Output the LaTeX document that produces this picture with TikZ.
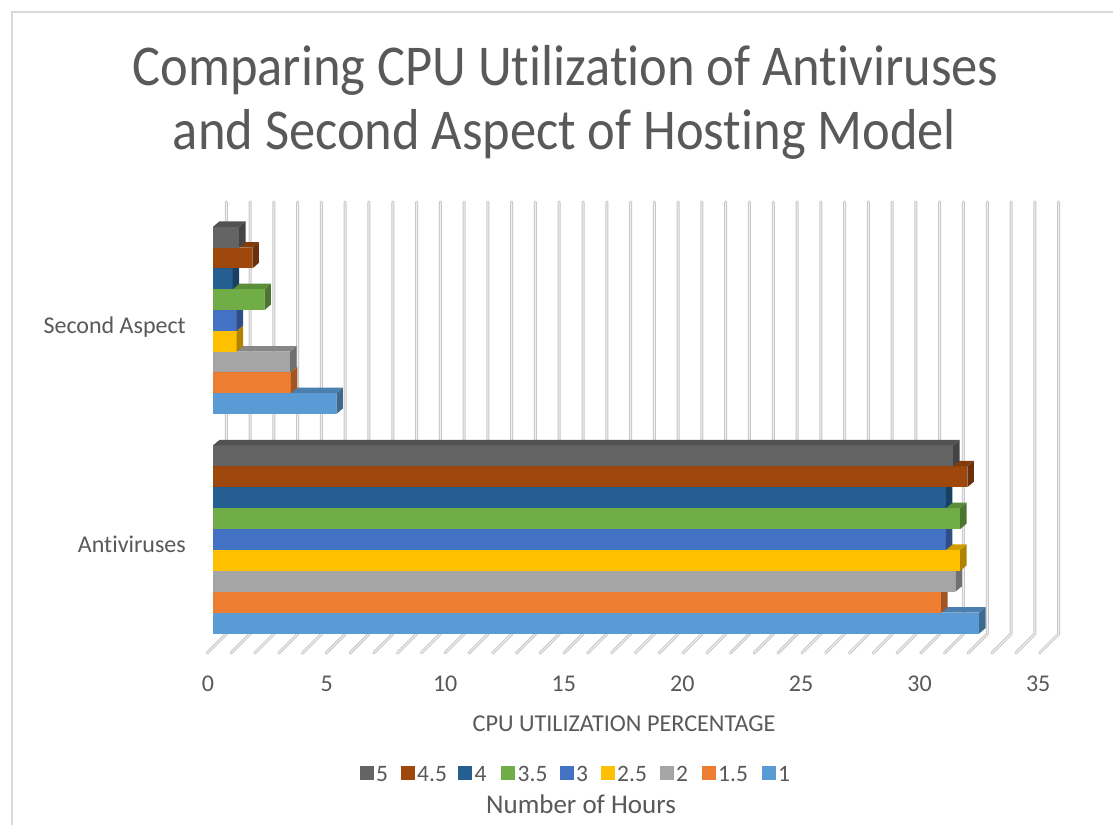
\documentclass[tikz,border=0pt]{standalone}
\usepackage{fontspec}
\setmainfont{Carlito}[Ligatures=NoCommon]
\definecolor{txt}{HTML}{595959}
\definecolor{c5}{HTML}{646464}
\definecolor{c45}{HTML}{9E480E}
\definecolor{c4}{HTML}{255E91}
\definecolor{c35}{HTML}{70AD47}
\definecolor{c3}{HTML}{4472C4}
\definecolor{c25}{HTML}{FFC000}
\definecolor{c2}{HTML}{A5A5A5}
\definecolor{c15}{HTML}{ED7D31}
\definecolor{c1}{HTML}{5B9BD5}
\newcommand\barthreed[4]{%
  \pgfmathsetmacro\xr{213+23.72*#3}%
  \fill[#4] (213,#1) rectangle (\xr,#1+#2);
  \fill[#4!68!black] (\xr,#1+#2) -- (\xr,#1) -- (\xr+6.5,#1-5.5) -- (\xr+6.5,#1+#2-5.5) -- cycle;
  \fill[#4!82!black] (213,#1) -- (\xr,#1) -- (\xr+6.5,#1-5.5) -- (219.5,#1-5.5) -- cycle;
}
\newcommand\tall[1]{\scalebox{1}[1.1]{#1}}
\tikzset{
  border/.style={draw=black!15, line width=1.5pt},
  gridout/.style={draw=black!22, line width=3pt, line cap=round, line join=round},
  gridin/.style={draw=black!6, line width=1pt, line cap=round, line join=round},
  lbl/.style={text=txt, inner sep=0pt},
  ttl/.style={lbl, anchor=base, font=\fontsize{52.5}{60}\selectfont},
  tick/.style={lbl, anchor=base, font=\fontsize{24}{28}\selectfont},
  cat/.style={lbl, anchor=base east, font=\fontsize{24}{28}\selectfont},
  legsq/.style={minimum size=14pt, inner sep=0pt, outer sep=0pt}
}
\begin{document}
\begin{tikzpicture}[x=1pt,y=-1pt]
\useasboundingbox (0,0) rectangle (1113,825);
\fill[white] (0,0) rectangle (1113,825);
\draw[border] (12,825) -- (12,12) -- (1113,12);
% title
\node[ttl] (t1) at (565.5,85) {\tall{Comparing CPU Utilization of Antiviruses}};
\node[ttl] (t2) at (564.5,149) {\tall{and Second Aspect of Hosting Model}};
% gridlines
\foreach \k in {0,...,35}{
  \pgfmathsetmacro\xb{226.3+23.78*\k}
  \draw[gridout] (\xb,202) -- (\xb,634) -- (\xb-19,653);
  \draw[gridin] (\xb,202) -- (\xb,634) -- (\xb-19,653);
}
% bars: Antiviruses
\foreach \v/\c [count=\i from 0] in {32.3/c1,30.7/c15,31.3/c2,31.5/c25,30.9/c3,31.5/c35,30.9/c4,31.8/c45,31.2/c5}{
  \pgfmathsetmacro\yt{633.5-(\i+1)*20.9}
  \barthreed{\yt}{20.9}{\v}{\c}
}
% bars: Second Aspect
\foreach \v/\c [count=\i from 0] in {5.2/c1,3.28/c15,3.25/c2,1.0/c25,1.0/c3,2.17/c35,0.83/c4,1.66/c45,1.1/c5}{
  \pgfmathsetmacro\yt{414-(\i+1)*20.8}
  \barthreed{\yt}{20.8}{\v}{\c}
}
% category labels
\node[cat] (sa) at (186,333) {Second Aspect};
\node[cat] (av) at (186,552) {Antiviruses};
% tick labels
\foreach \k in {0,5,...,35}{
  \node[tick] (tk\k) at ({208+23.72*\k},691) {\k};
}
\node[lbl, anchor=base, font=\fontsize{24.2}{28}\selectfont] (xt) at (624,731.5) {CPU UTILIZATION PERCENTAGE};
% legend
\foreach \c/\t/\xs in {c5/5/359.5,c45/4.5/400.5,c4/4/458,c35/3.5/501,c3/3/559.5,c25/2.5/600.5,c2/2/659.5,c15/1.5/701.5,c1/1/761.5}{
  \node[legsq, fill=\c, anchor=north west] (sq\t) at (\xs,765.5) {};
  \node[lbl, anchor=base west, font=\fontsize{23.5}{28}\selectfont] (lg\t) at (\xs+16.5,781.5) {\t};
}
\node[lbl, anchor=base, font=\fontsize{27}{32}\selectfont] (lt) at (581,813) {Number of Hours};
\end{tikzpicture}
\end{document}
